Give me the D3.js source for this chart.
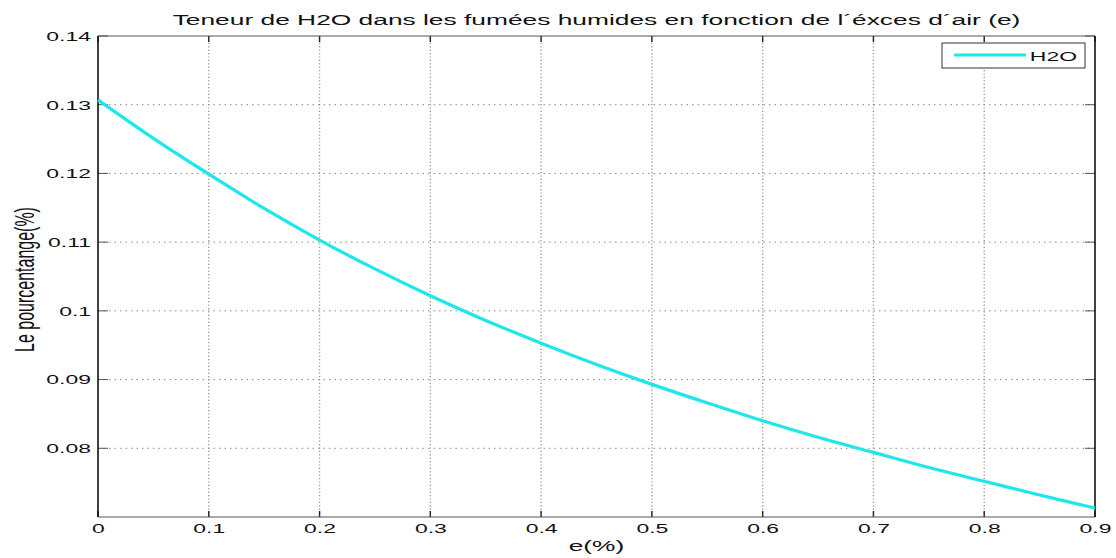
<!DOCTYPE html>
<html>
<head>
<meta charset="utf-8">
<script src="https://cdn.jsdelivr.net/npm/d3@7"></script>
<style>
  html, body { margin: 0; padding: 0; background: #fff; }
  svg { display: block; }
  text { font-family: "Liberation Sans", Arial, Helvetica, sans-serif; fill: #111; }
</style>
</head>
<body>
<svg id="chart" width="1116" height="558"></svg>
<script>
// Excess air e (fraction) and H2O content in wet flue gas
const eValues = [0, 0.05, 0.1, 0.15, 0.2, 0.25, 0.3, 0.35, 0.4, 0.45,
                 0.5, 0.55, 0.6, 0.65, 0.7, 0.75, 0.8, 0.85, 0.9];
const h2oValues = [0.1307, 0.1251, 0.1199, 0.1149, 0.1103, 0.1061, 0.1022, 0.0986, 0.0953, 0.0922,
                   0.0893, 0.0866, 0.0840, 0.0816, 0.0794, 0.0772, 0.0752, 0.0732, 0.0713];

const xTicks = [0, 0.1, 0.2, 0.3, 0.4, 0.5, 0.6, 0.7, 0.8, 0.9];
const yTicks = [0.08, 0.09, 0.1, 0.11, 0.12, 0.13, 0.14];
const xTickLabels = ["0", "0.1", "0.2", "0.3", "0.4", "0.5", "0.6", "0.7", "0.8", "0.9"];
const yTickLabels = ["0.08", "0.09", "0.1", "0.11", "0.12", "0.13", "0.14"];

const titleText = "Teneur de H2O dans les fumées humides en fonction de l´éxces d´air (e)";
const xLabelText = "e(%)";
const yLabelText = "Le pourcentange(%)";
const seriesName = "H2O";

// Figure geometry; text is drawn horizontally widened
const SX = 1.7;
const margin = { left: 98, right: 21, top: 36, bottom: 41 };
const W = 1116, H = 558;
const pw = W - margin.left - margin.right;
const ph = H - margin.top - margin.bottom;

const svg = d3.select("#chart");
const g = svg.append("g").attr("transform", `translate(${margin.left},${margin.top})`);

const x = d3.scaleLinear().domain([0, 0.9]).range([0, pw]);
const y = d3.scaleLinear().domain([0.07, 0.14]).range([ph, 0]);

// dotted grid
g.append("g").selectAll("line").data(xTicks.slice(1, -1)).join("line")
  .attr("x1", d => x(d)).attr("x2", d => x(d))
  .attr("y1", 0).attr("y2", ph)
  .attr("stroke", "#999").attr("stroke-width", 1.4)
  .attr("stroke-dasharray", "1.2,2.2");
g.append("g").selectAll("line").data(yTicks.slice(0, -1)).join("line")
  .attr("x1", 0).attr("x2", pw)
  .attr("y1", d => y(d)).attr("y2", d => y(d))
  .attr("stroke", "#8a8a8a").attr("stroke-width", 1)
  .attr("stroke-dasharray", "1.5,4");

// inward tick marks on all four sides
const xt = g.append("g");
xt.selectAll("line.b").data(xTicks).join("line").attr("class", "b")
  .attr("x1", d => x(d)).attr("x2", d => x(d)).attr("y1", ph).attr("y2", ph - 6)
  .attr("stroke", "#222").attr("stroke-width", 1.4);
xt.selectAll("line.t").data(xTicks).join("line").attr("class", "t")
  .attr("x1", d => x(d)).attr("x2", d => x(d)).attr("y1", 0).attr("y2", 6)
  .attr("stroke", "#222").attr("stroke-width", 1.4);
const yt = g.append("g");
yt.selectAll("line.l").data(yTicks).join("line").attr("class", "l")
  .attr("x1", 0).attr("x2", 10).attr("y1", d => y(d)).attr("y2", d => y(d))
  .attr("stroke", "#555").attr("stroke-width", 1);
yt.selectAll("line.r").data(yTicks).join("line").attr("class", "r")
  .attr("x1", pw).attr("x2", pw - 10).attr("y1", d => y(d)).attr("y2", d => y(d))
  .attr("stroke", "#555").attr("stroke-width", 1);

// axes box
g.append("line").attr("x1", 0).attr("x2", pw).attr("y1", 0).attr("y2", 0).attr("stroke", "#555").attr("stroke-width", 1);
g.append("line").attr("x1", 0).attr("x2", pw).attr("y1", ph).attr("y2", ph).attr("stroke", "#555").attr("stroke-width", 1.2);
g.append("line").attr("x1", 0).attr("x2", 0).attr("y1", 0).attr("y2", ph).attr("stroke", "#111").attr("stroke-width", 1.6);
g.append("line").attr("x1", pw).attr("x2", pw).attr("y1", 0).attr("y2", ph).attr("stroke", "#111").attr("stroke-width", 1.6);

// tick labels via d3 axes (lines hidden, labels widened)
const xAxis = g.append("g").attr("transform", `translate(0,${ph})`)
  .call(d3.axisBottom(x).tickValues(xTicks).tickFormat((d, i) => xTickLabels[i]).tickSize(0).tickPadding(6));
xAxis.select(".domain").remove();
xAxis.selectAll("text")
  .attr("transform", `scale(${SX},1)`)
  .style("font-family", '"Liberation Sans", Arial, sans-serif')
  .style("font-size", "13.5px").attr("fill", "#111");

const yAxis = g.append("g")
  .call(d3.axisLeft(y).tickValues(yTicks).tickFormat((d, i) => yTickLabels[i]).tickSize(0).tickPadding(0));
yAxis.select(".domain").remove();
yAxis.selectAll("text")
  .attr("x", -7 / SX)
  .attr("transform", `scale(${SX},1)`)
  .style("font-family", '"Liberation Sans", Arial, sans-serif')
  .style("font-size", "13.5px").attr("fill", "#111");

// data line
const line = d3.line()
  .x((d, i) => x(eValues[i]))
  .y(d => y(d))
  .curve(d3.curveCatmullRom);
g.append("path").datum(h2oValues)
  .attr("d", line)
  .attr("fill", "none")
  .attr("stroke", "#1fe6ea")
  .attr("stroke-width", 3.2)
  .attr("stroke-linejoin", "round");

// widened text helper
function wideText(parent, tx, ty, str, size, anchor, rotate) {
  const t = parent.append("g")
    .attr("transform", `translate(${tx},${ty}) scale(${SX},1)` + (rotate ? ` rotate(${rotate})` : ""));
  return t.append("text").attr("text-anchor", anchor).style("font-size", size + "px").text(str);
}

// title and axis labels
wideText(svg, margin.left + pw / 2, 25, titleText, 15.5, "middle");
wideText(svg, margin.left + pw / 2, 551, xLabelText, 15.5, "middle");
wideText(svg, 34, margin.top + ph / 2 + 3, yLabelText, 16, "middle", -90);

// legend
const lg = g.append("g").attr("transform", `translate(${pw - 153},7)`);
lg.append("rect").attr("x", 0).attr("y", 0).attr("width", 143).attr("height", 25)
  .attr("fill", "#fff").attr("stroke", "#333").attr("stroke-width", 1);
lg.append("line").attr("x1", 12).attr("x2", 84).attr("y1", 12).attr("y2", 12)
  .attr("stroke", "#1fe6ea").attr("stroke-width", 3.2);
wideText(lg, 135, 18, seriesName, 13.5, "end");
</script>
</body>
</html>
